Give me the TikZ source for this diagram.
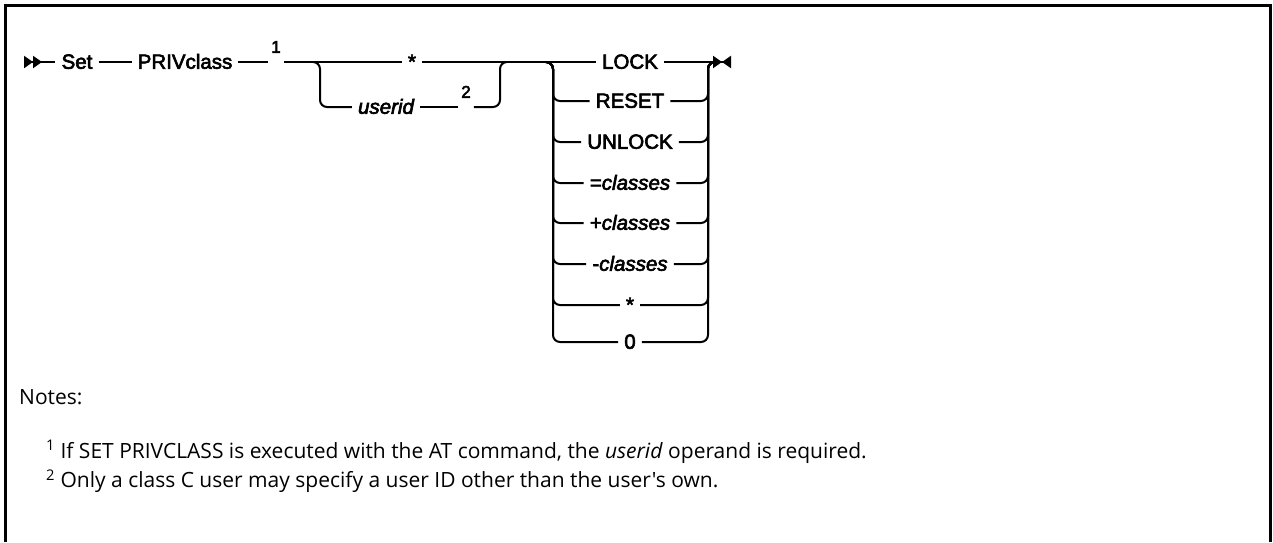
\documentclass[tikz,border=0pt]{standalone}
\usepackage{fontspec}
\setmainfont{Liberation Sans}[FakeBold=3]
\newfontfamily\notefont{Open Sans}
\usetikzlibrary{arrows.meta}

\begin{document}
\begin{tikzpicture}[x=1pt,y=-1pt,
  kw/.style={font=\fontsize{20.5}{22}\selectfont,inner xsep=6pt,inner ysep=0pt,text height=14.5pt,text depth=1pt},
  vr/.style={kw,font=\fontsize{20.5}{22}\selectfont\itshape},
  nr/.style={font=\fontsize{17}{19}\selectfont,inner xsep=3pt,inner ysep=0pt,text height=14.5pt,text depth=1pt},
  rr/.style={line width=2pt,rounded corners=7pt},
  nt/.style={anchor=west,inner sep=0pt,font=\notefont\fontsize{21}{24}\selectfont}]
\useasboundingbox (0,0) rectangle (1273,542);
\draw[line width=3pt] (5.5,542) -- (5.5,5.5) -- (1270.5,5.5) -- (1270.5,542);
% main line
\coordinate (beg) at (24,62);
\node[kw] (set) at (77,62) {Set};
\node[kw] (priv) at (185,62) {PRIVclass};
\node[nr] (n1) at (276,62) {\raisebox{16pt}{1}};
\coordinate (sp) at (313,62);
\node[kw] (all) at (412,62) {*};
\node[vr] (uid) at (386,107) {userid};
\node[nr] (n2) at (466,107) {\raisebox{16pt}{2}};
\coordinate (jn) at (507,62);
% choices
\coordinate (ch) at (553,62);
\node[kw] (lock) at (630,62) {LOCK};
\node[kw] (rst) at (630,101) {RESET};
\node[kw] (unl) at (630,142) {UNLOCK};
\node[kw] (eqc) at (630,183) {=\textit{classes}};
\node[kw] (plc) at (630,223) {+\textit{classes}};
\node[kw] (mic) at (630,264) {-\textit{classes}};
\node[kw] (ast) at (630,305) {*};
\node[kw] (zer) at (630,342) {0};
\coordinate (cj) at (708,62);
\coordinate (fin) at (731,62);
\draw[rr,{Triangle[reversed,length=9pt,width=12pt]Triangle[reversed,length=9pt,width=12pt]}-] (beg) -- (set);
\draw[rr] (set) -- (priv); \draw[rr] (priv) -- (n1); \draw[rr] (n1) -- (all);
\draw[rr] (sp) -- ++(7,0) |- (uid); \draw[rr] (uid) -- (n2);
\draw[rr] (n2) -| ([xshift=-7pt]jn) -- (jn);
\draw[rr] (all) -- (lock);
\draw[rr,-{Triangle[length=9pt,width=12pt]Triangle[reversed,length=9pt,width=12pt]}] (lock) -- (fin);
\draw[rr] ([xshift=-7pt]ch) -| (ch |- rst) -- (rst); \draw[rr] (rst) -| (cj) -- ([xshift=7pt]cj);
\draw[rr] ([xshift=-7pt]ch) -| (ch |- unl) -- (unl); \draw[rr] (unl) -| (cj) -- ([xshift=7pt]cj);
\draw[rr] ([xshift=-7pt]ch) -| (ch |- eqc) -- (eqc); \draw[rr] (eqc) -| (cj) -- ([xshift=7pt]cj);
\draw[rr] ([xshift=-7pt]ch) -| (ch |- plc) -- (plc); \draw[rr] (plc) -| (cj) -- ([xshift=7pt]cj);
\draw[rr] ([xshift=-7pt]ch) -| (ch |- mic) -- (mic); \draw[rr] (mic) -| (cj) -- ([xshift=7pt]cj);
\draw[rr] ([xshift=-7pt]ch) -| (ch |- ast) -- (ast); \draw[rr] (ast) -| (cj) -- ([xshift=7pt]cj);
\draw[rr] ([xshift=-7pt]ch) -| (ch |- zer) -- (zer); \draw[rr] (zer) -| (cj) -- ([xshift=7pt]cj);
% notes
\node[nt] (nts) at (19,397) {Notes:};
\node[nt] (f1) at (46,452) {\textsuperscript{1} If SET PRIVCLASS is executed with the AT command, the \textit{userid} operand is required.};
\node[nt] (f2) at (46,481) {\textsuperscript{2} Only a class C user may specify a user ID other than the user's own.};
\end{tikzpicture}
\end{document}
